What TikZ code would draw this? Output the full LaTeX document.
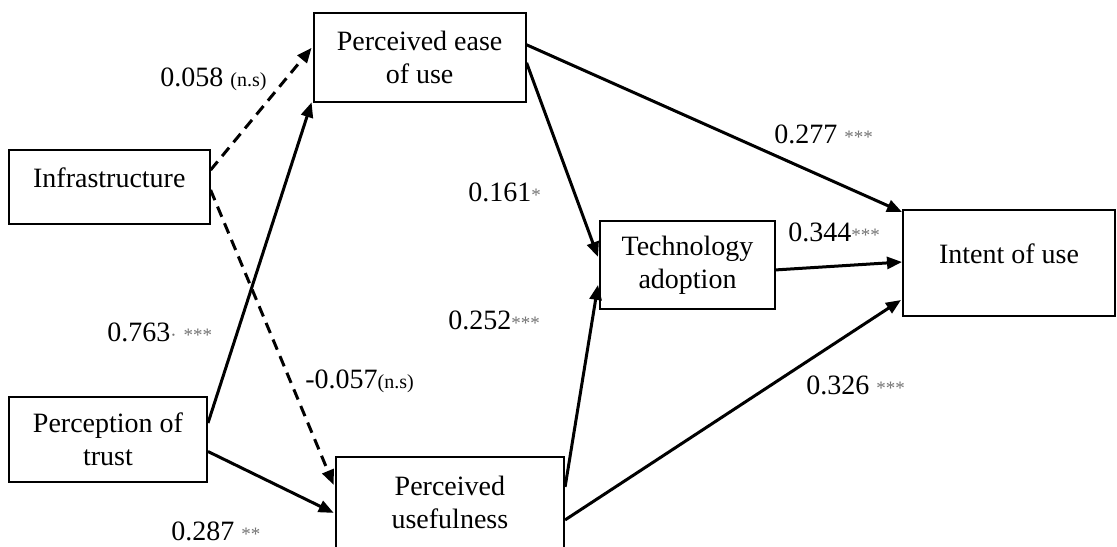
\documentclass[tikz,border=0pt]{standalone}
\usepackage{fontspec}
\setmainfont{Liberation Serif}
\usetikzlibrary{arrows.meta,calc}
\definecolor{stargray}{gray}{0.45}

% significance marks and non-significance tags
\newcommand\sigmark[1]{{\fontsize{9.5}{10}\selectfont\color{stargray}#1}}
\newcommand\nstag{{\fontsize{10}{11}\selectfont(n.s)}}

\tikzset{
  box/.style={draw, line width=1pt, inner sep=0pt, align=center,
              font=\fontsize{14}{16.5}\selectfont},
  link/.style={-{Triangle[length=7.5pt,width=6pt]}, line width=1.5pt},
  nslink/.style={link, dash pattern=on 5.5pt off 3.5pt},
  coef/.style={anchor=base west, inner sep=0pt,
               font=\fontsize{14}{16}\selectfont},
}

\begin{document}
\begin{tikzpicture}[x=0.5pt,y=-0.5pt]
  \useasboundingbox (0,0) rectangle (1117,546);

  % constructs
  \node[box, minimum width=106pt, minimum height=44.5pt] (peou) at (419.6,57.8)
    {Perceived ease\\of use};
  \node[box, minimum width=100.3pt, minimum height=37pt, text depth=9pt] (infra) at (109.3,187)
    {Infrastructure};
  \node[box, minimum width=99pt, minimum height=42.2pt] (trust) at (108,439.5)
    {Perception of\\trust};
  \node[box, minimum width=114.2pt, minimum height=46.2pt] (pu) at (449.9,502.9)
    {Perceived\\usefulness};
  \node[box, minimum width=87.5pt, minimum height=44.2pt] (tech) at (687.5,264.9)
    {Technology\\adoption};
  \node[box, minimum width=106pt, minimum height=53pt, text depth=9pt] (intent) at (1009,263)
    {Intent of use};

  % structural paths
  \draw[nslink] ($(infra.east)+(0,-17)$) -- ($(peou.west)+(-1,-10)$);
  \draw[link]   ($(trust.east)+(0,-16.5)$) -- ($(peou.south west)+(-1,-1)$);
  \draw[nslink] ($(infra.east)+(0,3)$) -- ($(pu.west)+(-1,-18)$);
  \draw[link]   ($(trust.east)+(0,12)$) -- ($(pu.west)+(-1,10)$);
  \draw[link]   ($(peou.east)+(0,5)$) -- ($(tech.west)+(-1,-8)$);
  \draw[link]   ($(peou.east)+(0,-13)$) -- ($(intent.north west)+(0,3)$);
  \draw[link]   ($(tech.east)+(0,5)$) -- ($(intent.west)+(0,-1)$);
  \draw[link]   ($(pu.east)+(0,-16)$) -- ($(tech.west)+(-1,20)$);
  \draw[link]   ($(pu.east)+(0,17)$) -- ($(intent.west)+(-1,37)$);

  % path coefficients
  \node[coef] (c1) at (160,86)  {0.058 \nstag};
  \node[coef] (c2) at (468,201.7) {0.161\sigmark{*}};
  \node[coef] (c3) at (774,143) {0.277 \sigmark{***}};
  \node[coef] (c4) at (788,241.7) {0.344\sigmark{***}};
  \node[coef] (c5) at (107,341) {0.763\sigmark{\textperiodcentered} \sigmark{***}};
  \node[coef] (c6) at (305,388) {-0.057\nstag};
  \node[coef] (c7) at (448,329) {0.252\sigmark{***}};
  \node[coef] (c8) at (171,540) {0.287 \sigmark{**}};
  \node[coef] (c9) at (806,394) {0.326 \sigmark{***}};
\end{tikzpicture}
\end{document}
